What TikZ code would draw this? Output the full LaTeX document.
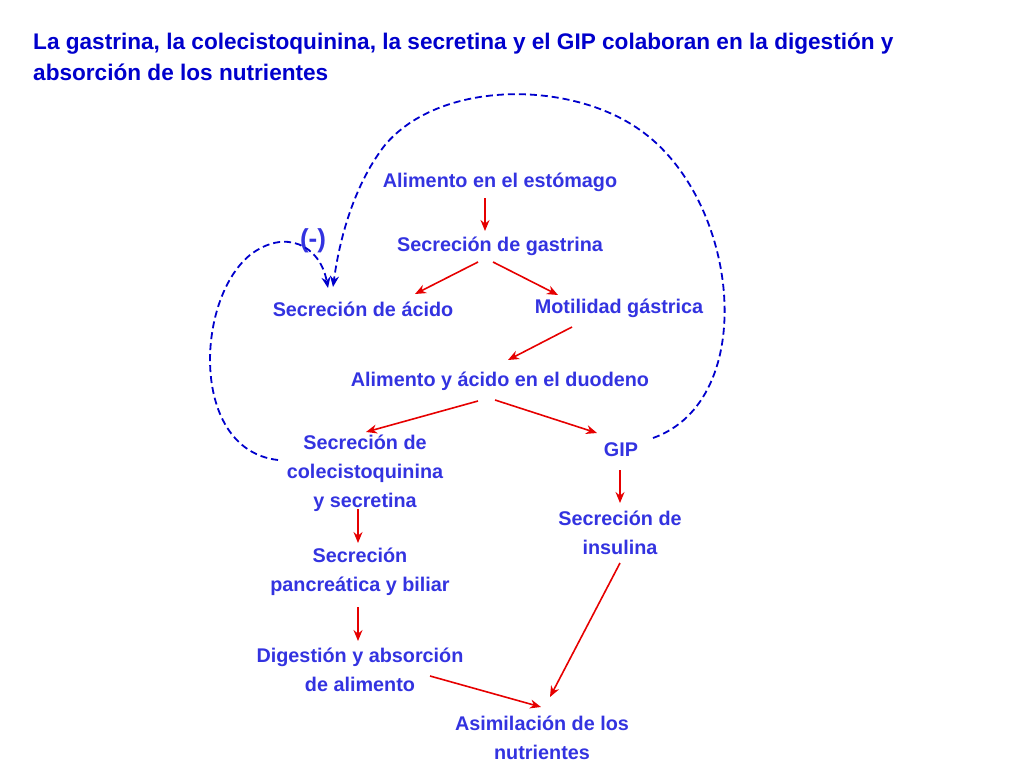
\documentclass[tikz,border=0pt]{standalone}
\usepackage{fontspec}
\setmainfont{Liberation Sans}
\usetikzlibrary{arrows.meta,positioning}
\definecolor{txtblue}{RGB}{51,51,224}
\definecolor{ttlblue}{RGB}{0,0,204}
\definecolor{arrred}{RGB}{230,0,0}
\begin{document}
\begin{tikzpicture}[x=1pt,y=-1pt,
            box/.style={align=center,text=txtblue,font=\fontsize{19.8}{29}\selectfont\bfseries,inner sep=0pt},
            redarr/.style={draw=arrred,line width=1.6pt,-{Stealth[length=11pt,width=9pt]}},
            fb/.style={draw=ttlblue,line width=1.8pt,dash pattern=on 7pt off 4pt,-{Stealth[length=11pt,width=9pt]}}
          ]
          \useasboundingbox (0,0) rectangle (1024,768);
          %title
          \node[anchor=west,text=ttlblue,font=\fontsize{22.6}{31}\selectfont\bfseries,align=left,inner sep=0pt] (title) at (33,57)
            {La gastrina, la colecistoquinina, la secretina y el GIP colaboran en la digestión y\\absorción de los nutrientes};

          %steps
          \node[box] (food) at (500,182) {Alimento en el estómago};
          \node[box] (gas) at (500,246) {Secreción de gastrina};
          \node[box] (acid) at (363,309) {Secreción de ácido};
          \node[box] (mot) at (619,308) {Motilidad gástrica};
          \node[box] (duo) at (500,381) {Alimento y ácido en el duodeno};
          \node[box] (cck) at (365,473) {Secreción de\\colecistoquinina\\y secretina};
          \node[box] (gip) at (621,450) {GIP};
          \node[box] (ins) at (620,533) {Secreción de\\insulina};
          \node[box] (pan) at (360,572) {Secreción\\pancreática y biliar};
          \node[box] (dig) at (360,670) {Digestión y absorción\\de alimento};
          \node[box] (asi) at (542,738) {Asimilación de los\\nutrientes};
          \node[box,font=\fontsize{26}{28}\selectfont\bfseries] (neg) at (313,241) {(-)};

          %arrow ends
          \coordinate (food-s) at (485,198);  \coordinate (gas-n) at (485,231);
          \coordinate (gas-sw) at (478,262);  \coordinate (acid-n) at (415,294);
          \coordinate (gas-se) at (493,262);  \coordinate (mot-n) at (558,295);
          \coordinate (mot-s) at (572,327);   \coordinate (duo-n) at (508,360);
          \coordinate (duo-sw) at (478,401);  \coordinate (cck-n) at (366,432);
          \coordinate (duo-se) at (495,400);  \coordinate (gip-n) at (597,433);
          \coordinate (gip-s) at (620,470);   \coordinate (ins-n) at (620,503);
          \coordinate (cck-s) at (358,509);   \coordinate (pan-n) at (358,543);
          \coordinate (pan-s) at (358,607);   \coordinate (dig-n) at (358,641);
          \coordinate (dig-e) at (430,676);   \coordinate (asi-nw) at (541,707);
          \coordinate (ins-s) at (620,563);   \coordinate (asi-ne) at (550,697);

          %red arrows
          \draw[redarr] (food-s) -- (gas-n);
          \draw[redarr] (gas-sw) -- (acid-n);
          \draw[redarr] (gas-se) -- (mot-n);
          \draw[redarr] (mot-s) -- (duo-n);
          \draw[redarr] (duo-sw) -- (cck-n);
          \draw[redarr] (duo-se) -- (gip-n);
          \draw[redarr] (gip-s) -- (ins-n);
          \draw[redarr] (cck-s) -- (pan-n);
          \draw[redarr] (pan-s) -- (dig-n);
          \draw[redarr] (dig-e) -- (asi-nw);
          \draw[redarr] (ins-s) -- (asi-ne);

          %feedback loops
          \coordinate (c1) at (278,460);
          \coordinate (c2) at (328,288);
          \coordinate (c3) at (653,438);
          \coordinate (c4) at (333,287);
          \draw[fb] (c1) .. controls (190,450) and (195,300) .. (250,255)
                    .. controls (285,228) and (320,245) .. (c2);
          \draw[fb] (c3) .. controls (760,400) and (740,200) .. (640,130)
                    .. controls (570,80) and (440,80) .. (385,145)
                    .. controls (350,190) and (338,250) .. (c4);
      \end{tikzpicture}
\end{document}
